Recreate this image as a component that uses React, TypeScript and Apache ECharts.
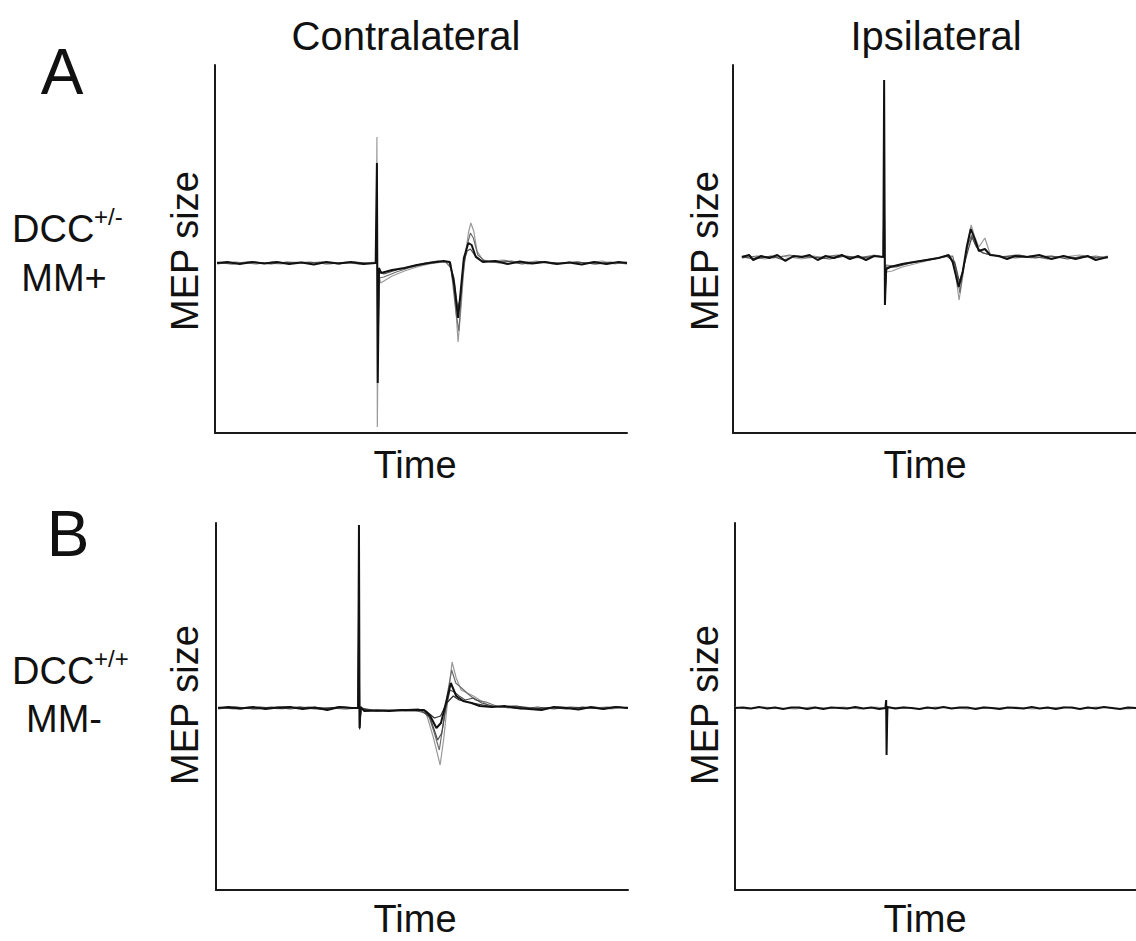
import React, { useEffect, useRef } from "react";
import * as echarts from "echarts";

// ---- Data (time in % of sweep, MEP amplitude in arbitrary units; baseline = 0) ----
// Panel A, contralateral (DCC+/-, MM+)
const A_CONTRA_1: number[][] = [[0.5,0],[3,0.01],[6,-0.01],[9,0.01],[12,-0.005],[15,0.01],[18,-0.01],[21,0.005],[24,-0.015],[27,0.01],[30,-0.005],[33,0.01],[36,-0.01],[39,0],[39.3,1.0],[39.5,-1.2],[39.8,-0.05],[40.3,-0.1],[43,-0.07],[46,-0.05],[49,-0.02],[52,0],[55.5,0.02],[57,0.01],[58,-0.2],[59,-0.55],[59.7,-0.25],[60.4,0.05],[61.5,0.2],[62.3,0.18],[63.3,0.06],[65,0.01],[68,0.02],[71,-0.01],[74,0.015],[77,-0.005],[80,0.01],[83,-0.01],[86,0.005],[89,-0.015],[92,0.01],[95,-0.01],[98,0.01],[100,0]];
const A_CONTRA_2: number[][] = [[0.5,0.01],[4,-0.01],[8,0.015],[12,0],[16,-0.01],[20,0.01],[24,0],[28,-0.01],[32,0.01],[36,0],[39.1,0.01],[39.3,1.26],[39.4,-1.64],[39.7,-0.1],[40.2,-0.2],[43,-0.13],[46,-0.08],[49,-0.04],[52,-0.01],[55.5,0.01],[57.2,0],[58.2,-0.3],[59,-0.79],[59.8,-0.4],[60.5,0],[61.5,0.3],[62.1,0.4],[62.8,0.32],[63.6,0.12],[65,0.03],[67,0.02],[70,0.03],[74,0],[78,0.02],[82,-0.01],[86,0.01],[90,0],[94,0.02],[97,-0.01],[100,0.01]];
const A_CONTRA_3: number[][] = [[0.5,-0.01],[5,0.01],[10,-0.01],[14,0.01],[19,0],[23,0.01],[27,-0.01],[31,0.005],[35,-0.01],[39,0],[39.3,0.6],[39.5,-0.9],[39.8,-0.15],[41,-0.14],[44,-0.09],[47,-0.05],[50,-0.02],[53,0.01],[56,0.01],[57.3,-0.05],[58.5,-0.5],[59.2,-0.68],[60,-0.2],[61,0.15],[62,0.3],[62.7,0.25],[63.8,0.08],[65.5,0.02],[69,0],[72,0.02],[76,-0.01],[80,0.01],[84,0],[88,0.01],[92,-0.01],[96,0.01],[100,-0.01]];
const A_CONTRA_4: number[][] = [[0.5,0],[4.5,-0.01],[9.5,0.01],[13.5,-0.01],[17.5,0.01],[22,0],[26,0.01],[30,-0.01],[34,0.01],[38,-0.005],[39.2,0],[39.35,0.8],[39.5,-1.0],[39.9,-0.08],[41,-0.11],[44,-0.07],[48,-0.03],[51,0],[54,0.02],[56.8,0.01],[58,-0.15],[58.9,-0.45],[59.6,-0.35],[60.3,0],[61.2,0.12],[62,0.14],[63,0.08],[64.5,0.03],[67,0.01],[70.5,0.02],[74.5,-0.01],[79,0.015],[83.5,-0.005],[88,0.01],[92.5,-0.01],[96.5,0.005],[100,0]];

// Panel A, ipsilateral
const A_IPSI_1: number[][] = [[2.2,0],[4,0.02],[5,-0.03],[7,0.01],[9,-0.01],[11,0.02],[13,-0.04],[15,0.01],[17,0],[19,0.02],[21,-0.03],[23,0.01],[25,-0.01],[27,0.02],[29,-0.02],[31,0.01],[33,-0.03],[35,0.01],[37.3,0],[37.5,1.77],[37.7,-0.48],[38,-0.12],[39,-0.1],[42,-0.07],[45,-0.05],[48,-0.03],[51,-0.01],[53.5,0.02],[54.5,-0.05],[56,-0.3],[57,-0.15],[58,0.1],[59,0.28],[60,0.18],[61,0.06],[62.5,0.08],[63.8,0.02],[66,0.01],[68,-0.02],[70,0.01],[73,0],[76,0.02],[79,-0.02],[82,0.01],[85,-0.02],[88,0.01],[90,-0.03],[93,0]];
const A_IPSI_2: number[][] = [[2.2,0.01],[5,0],[8,-0.02],[11,0.01],[14,0],[17,-0.02],[20,0.01],[23,-0.01],[26,0.01],[29,0],[32,-0.01],[35,0.02],[37.3,0],[37.5,1.2],[37.7,-0.42],[38.1,-0.15],[39.5,-0.14],[42,-0.1],[45,-0.07],[48,-0.04],[51,-0.01],[54,0.01],[55,-0.1],[56.1,-0.43],[57,-0.2],[58.2,0.15],[59.1,0.32],[60,0.2],[61,0.1],[62.5,0.19],[63.8,0.03],[66,0],[70,0.02],[74,-0.01],[78,0.01],[82,0],[86,0.02],[90,-0.01],[93,0.01]];
const A_IPSI_3: number[][] = [[2.2,-0.01],[6,0.01],[10,-0.01],[14,0.02],[18,-0.01],[22,0],[26,0.02],[30,-0.01],[34,0.01],[37.3,0],[37.5,0.8],[37.7,-0.3],[38,-0.08],[40,-0.09],[43,-0.06],[46,-0.04],[49,-0.02],[52,0],[54.5,0.01],[55.5,-0.15],[56.3,-0.36],[57.2,-0.1],[58.3,0.12],[59.2,0.22],[60.2,0.12],[61.5,0.05],[63,0.03],[66,0.01],[70,-0.01],[74,0.01],[78,-0.02],[82,0.01],[86,-0.01],[90,0.01],[93,-0.01]];
const A_IPSI_4: number[][] = [[2.2,0],[5.5,-0.02],[9.5,0.01],[12.5,-0.03],[16,0.01],[19.5,0],[24,-0.02],[28,0.01],[32,-0.01],[36,0.01],[37.3,0],[37.5,1.0],[37.7,-0.35],[38.2,-0.1],[40.5,-0.1],[44,-0.06],[47,-0.04],[50,-0.02],[53,0.01],[55,-0.05],[56.2,-0.25],[57.1,-0.12],[58.4,0.08],[59.3,0.2],[60.4,0.1],[62,0.04],[64,0.02],[67,0],[71,0.02],[75,-0.01],[79,0.01],[83,-0.02],[87,0.01],[91,-0.01],[93,0]];

// Panel B, contralateral (DCC+/+, MM-)
const B_CONTRA_1: number[][] = [[0.5,0],[3,0.01],[6,-0.005],[9,0.01],[12,-0.01],[15,0.005],[18,0.01],[21,-0.01],[24,0.005],[27,-0.02],[30,0.01],[33,0],[34.5,0],[34.7,1.83],[34.85,-0.2],[35.1,0.01],[36,-0.03],[39,-0.025],[42,-0.03],[45,-0.02],[48,-0.02],[50.5,-0.02],[52,-0.08],[53.5,-0.2],[54.6,-0.15],[55.8,0.05],[57,0.25],[58.3,0.12],[60,0.07],[62,0.05],[64,0.02],[67,0.01],[70,0.02],[73,0],[76,-0.01],[79,-0.02],[82,0.01],[85,0],[88,-0.015],[91,0.01],[94,-0.01],[97,0.01],[100,0]];
const B_CONTRA_2: number[][] = [[0.5,0.01],[4,-0.01],[8,0.01],[12,0],[16,-0.01],[20,0.01],[24,-0.01],[28,0],[31,0.01],[34.5,0],[34.7,1.5],[34.85,-0.22],[35.2,0],[37,-0.03],[41,-0.02],[45,-0.03],[49,-0.02],[51,-0.05],[52.8,-0.3],[54.4,-0.57],[55.3,-0.3],[56.3,0.1],[57.3,0.46],[58.3,0.3],[59.5,0.18],[61,0.15],[62.5,0.12],[64,0.08],[66,0.03],[69,0.01],[72,0.02],[76,0],[80,-0.01],[84,0.01],[88,0],[92,0.01],[96,-0.01],[100,0.01]];
const B_CONTRA_3: number[][] = [[0.5,-0.01],[5,0.01],[10,-0.01],[15,0.01],[20,0],[25,-0.01],[30,0.01],[34.5,0],[34.7,0.8],[34.85,-0.15],[35.2,-0.01],[38,-0.02],[43,-0.03],[48,-0.02],[51.5,-0.06],[53,-0.25],[54.2,-0.42],[55,-0.2],[56.2,0.15],[57.2,0.38],[58.2,0.25],[59.6,0.2],[61.2,0.14],[63,0.08],[65.5,0.06],[68,0.02],[71,0],[75,0.01],[79,-0.01],[83,0.01],[87,-0.01],[91,0],[95,0.01],[100,0]];
const B_CONTRA_4: number[][] = [[0.5,0],[4.5,0.01],[9,-0.01],[13.5,0.01],[18,-0.01],[22.5,0.01],[27,0],[31.5,-0.01],[34.5,0],[34.7,1.2],[34.85,-0.18],[35.2,0],[38,-0.02],[42,-0.02],[46,-0.03],[50,-0.03],[52,-0.1],[53.8,-0.32],[54.8,-0.25],[55.8,0],[56.8,0.18],[57.8,0.16],[59,0.12],[60.5,0.08],[62.5,0.1],[64.5,0.05],[67,0.02],[70.5,0.01],[74,-0.01],[78,0.01],[82,-0.01],[86,0.01],[90,0],[94,-0.01],[98,0.01],[100,0]];
const B_CONTRA_5: number[][] = [[0.5,0.005],[5.5,-0.01],[10.5,0.01],[15.5,-0.005],[20.5,0.01],[25.5,-0.01],[29.5,0.01],[34.5,0],[34.7,1.7],[34.85,-0.21],[35.2,-0.01],[39,-0.03],[44,-0.02],[49,-0.01],[51,-0.03],[53,-0.1],[54.5,-0.08],[56,0.05],[57.6,0.12],[59,0.08],[61,0.06],[63.5,0.04],[66,0.02],[69,0.01],[73,0.02],[77,-0.01],[81,0.005],[85,-0.01],[89,0.01],[93,-0.005],[97,0.01],[100,0]];

// Panel B, ipsilateral (no MEP, only stimulus artefact)
const B_IPSI_1: number[][] = [[0,0],[2,0.005],[4,-0.005],[6,0.01],[8,-0.005],[10,0.005],[12,-0.01],[14,0.005],[16,0.005],[18,-0.01],[20,0.005],[22,-0.01],[24,0.005],[26,0],[28,-0.005],[30,0.01],[32,-0.005],[34,0.005],[36,-0.01],[37.5,0],[37.7,0.08],[37.8,-0.47],[38,0.01],[40,-0.005],[42,0.005],[44,0],[46,-0.01],[48,0.005],[50,-0.005],[52,0.01],[54,-0.005],[56,0.005],[58,0.005],[60,-0.01],[62,0.005],[64,0],[66,-0.01],[68,0.005],[70,0],[72,-0.005],[74,0.01],[76,-0.005],[78,0.005],[80,-0.01],[82,0.005],[84,0.005],[86,-0.01],[88,0.005],[90,-0.005],[92,0.01],[94,0],[96,-0.01],[98,0.005],[100,0]];
const B_IPSI_2: number[][] = [[0,0.01],[3,-0.01],[7,0.01],[11,0],[15,-0.01],[19,0.01],[23,0],[27,0.01],[31,-0.01],[35,0.01],[37.5,0],[37.7,0.05],[37.8,-0.3],[38.1,0],[42,0.01],[46,-0.01],[50,0.01],[54,0],[58,-0.01],[62,0.01],[66,0],[70,0.01],[74,-0.01],[78,0],[82,0.01],[86,-0.01],[90,0.01],[94,0],[98,-0.01],[100,0]];

// Labels
const COLUMN_TITLES = ["Contralateral", "Ipsilateral"];
const ROW_LETTERS = ["A", "B"];
const ROW_GENOTYPES = ["DCC", "DCC"];
const ROW_GENO_SUP = ["+/-", "+/+"];
const ROW_MM = ["MM+", "MM-"];
const X_NAME = "Time";
const Y_NAME = "MEP size";

const FONT = "'Liberation Sans', Arial, Helvetica, sans-serif";

export default function App() {
  const ref = useRef<HTMLDivElement>(null);
  useEffect(() => {
    if (!ref.current) return;
    const chart = echarts.init(ref.current, undefined, { renderer: "svg" });

    const grids = [
      { left: 215, top: 65, width: 412, height: 368 },
      { left: 733, top: 65, width: 403, height: 368 },
      { left: 216, top: 523, width: 412, height: 367 },
      { left: 735, top: 523, width: 401, height: 367 },
    ];
    const yRanges = [
      [-1.7, 1.98],
      [-1.76, 1.92],
      [-1.82, 1.85],
      [-1.82, 1.85],
    ];
    const panels = [
      [A_CONTRA_2, A_CONTRA_3, A_CONTRA_4, A_CONTRA_1],
      [A_IPSI_2, A_IPSI_3, A_IPSI_4, A_IPSI_1],
      [B_CONTRA_2, B_CONTRA_3, B_CONTRA_4, B_CONTRA_5, B_CONTRA_1],
      [B_IPSI_2, B_IPSI_1],
    ];
    const greys = ["#9a9a9a", "#6e6e6e", "#4a4a4a", "#2e2e2e"];

    const axisLine = { show: true, onZero: false, lineStyle: { color: "#1a1a1a", width: 2 } };
    const xAxis = grids.map((_, i) => ({
      type: "value", gridIndex: i, min: 0, max: 100,
      axisLine, axisTick: { show: false }, axisLabel: { show: false }, splitLine: { show: false },
    }));
    const yAxis = grids.map((_, i) => ({
      type: "value", gridIndex: i, min: yRanges[i][0], max: yRanges[i][1],
      axisLine, axisTick: { show: false }, axisLabel: { show: false }, splitLine: { show: false },
    }));

    const series: any[] = [];
    panels.forEach((traces, p) => {
      traces.forEach((tr, k) => {
        const last = k === traces.length - 1;
        series.push({
          type: "line", xAxisIndex: p, yAxisIndex: p, data: tr,
          showSymbol: false, symbol: "none", silent: true,
          lineStyle: { color: last ? "#111" : greys[Math.min(k, greys.length - 1)], width: last ? 2 : 1.2 },
          z: 2 + k,
        });
      });
    });

    const txt = (text: string, x: number, y: number, size: number, align = "center", rotation = 0) => ({
      type: "text", x, y, rotation,
      style: { text, font: `${size}px ${FONT}`, fill: "#111", align, verticalAlign: "middle" },
    });

    const graphic: any[] = [
      txt(COLUMN_TITLES[0], 406, 36, 40),
      txt(COLUMN_TITLES[1], 936, 36, 40),
      txt(ROW_LETTERS[0], 62, 72, 64),
      txt(ROW_LETTERS[1], 68, 534, 64),
      txt(ROW_GENOTYPES[0], 12, 229, 38, "left"),
      txt(ROW_GENO_SUP[0], 94, 216, 24, "left"),
      txt(ROW_MM[0], 64, 278, 38),
      txt(ROW_GENOTYPES[1], 12, 671, 38, "left"),
      txt(ROW_GENO_SUP[1], 94, 658, 24, "left"),
      txt(ROW_MM[1], 64, 719, 38),
      txt(Y_NAME, 185, 251, 38, "center", Math.PI / 2),
      txt(Y_NAME, 705, 251, 38, "center", Math.PI / 2),
      txt(Y_NAME, 185, 705, 38, "center", Math.PI / 2),
      txt(Y_NAME, 705, 705, 38, "center", Math.PI / 2),
      txt(X_NAME, 415, 465, 38),
      txt(X_NAME, 925, 465, 38),
      txt(X_NAME, 415, 919, 38),
      txt(X_NAME, 925, 919, 38),
    ];

    chart.setOption({
      animation: false,
      backgroundColor: "#ffffff",
      grid: grids,
      xAxis,
      yAxis,
      series,
      graphic,
    });
    return () => chart.dispose();
  }, []);
  return <div ref={ref} style={{ position: "absolute", left: 0, top: 0, width: 1136, height: 941 }} />;
}
